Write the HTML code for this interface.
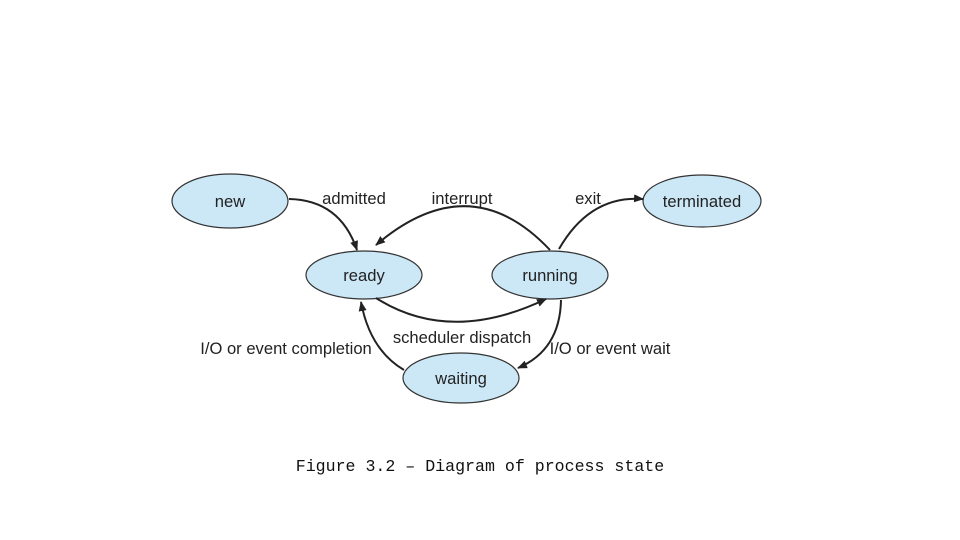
<!DOCTYPE html>
<html><head><style>
body{margin:0;background:#fff;}
svg{display:block}
</style></head><body>
<svg width="960" height="540" viewBox="0 0 960 540" xmlns="http://www.w3.org/2000/svg">
<defs><marker id="a" markerWidth="10" markerHeight="8" refX="9" refY="4" orient="auto" markerUnits="userSpaceOnUse"><path d="M0,0 L10,4 L0,8 Z" fill="#222"/></marker></defs>
<g fill="#cce8f7" stroke="#333" stroke-width="1.2">
<ellipse cx="230" cy="201" rx="58" ry="27"/>
<ellipse cx="364" cy="275" rx="58" ry="24"/>
<ellipse cx="550" cy="275" rx="58" ry="24"/>
<ellipse cx="702" cy="201" rx="59" ry="26"/>
<ellipse cx="461" cy="378" rx="58" ry="25"/>
</g>
<g fill="none" stroke="#222" stroke-width="2" marker-end="url(#a)">
<path d="M289,199 Q340,200 357,250"/>
<path d="M550,250 Q470,165 376,245"/>
<path d="M559,249 Q590,195 643,199"/>
<path d="M376,298 Q450,345 546,299"/>
<path d="M561,300 Q560,350 518,368"/>
<path d="M404,370 Q370,350 361,302"/>
</g>
<g font-family="Liberation Sans, sans-serif" font-size="16.6" fill="#222" text-anchor="middle">
<text x="230" y="207">new</text>
<text x="364" y="281">ready</text>
<text x="550" y="281">running</text>
<text x="702" y="207">terminated</text>
<text x="461" y="384">waiting</text>
<text x="354" y="204">admitted</text>
<text x="462" y="204">interrupt</text>
<text x="588" y="204">exit</text>
<text x="462" y="343">scheduler dispatch</text>
<text x="286" y="354">I/O or event completion</text>
<text x="610" y="354">I/O or event wait</text>
</g>
<text x="480" y="471" text-anchor="middle" font-family="Liberation Mono, monospace" font-size="16.6" fill="#111">Figure 3.2 – Diagram of process state</text>
</svg>
</body></html>
